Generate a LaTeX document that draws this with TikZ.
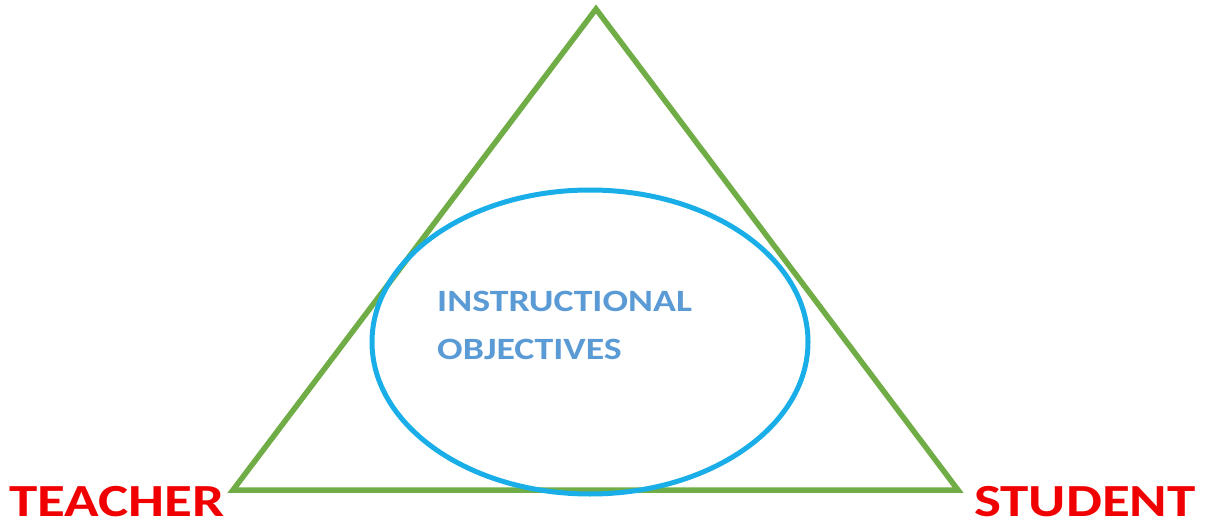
\documentclass[tikz,border=0pt]{standalone}
\usepackage{fontspec}
\setmainfont{Carlito}
\usetikzlibrary{shapes.geometric}
\definecolor{trigreen}{HTML}{70AD47}
\definecolor{ellblue}{HTML}{1AAEE8}
\definecolor{objblue}{HTML}{5B9BD5}
\definecolor{labred}{HTML}{F00000}
\tikzset{
  tri/.style={draw=trigreen, line width=5.5pt, line join=miter},
  ell/.style={draw=ellblue, line width=5pt, ellipse, minimum width=436pt, minimum height=304pt, inner sep=0pt},
  vlabel/.style={text=labred, font=\bfseries\fontsize{46}{48}\selectfont, anchor=base west, inner sep=0pt, text depth=0pt, xscale=1.24},
  olabel/.style={text=objblue, font=\bfseries\fontsize{31}{34}\selectfont, anchor=base west, inner sep=0pt, xscale=1.22}
}
\begin{document}
\begin{tikzpicture}[x=1pt,y=-1pt]
\useasboundingbox (0,0) rectangle (1232,525);
\coordinate (apex) at (596,9);
\coordinate (bl) at (233,490);
\coordinate (br) at (958,490);
\draw[tri] (apex) -- (bl) -- (br) -- cycle;
\node[ell] (obj) at (590,342) {};
\node[olabel] (t1) at (437,311) {INSTRUCTIONAL};
\node[olabel] (t2) at (437,359) {OBJECTIVES};
\node[vlabel] (teacher) at (9,516) {TEACHER};
\node[vlabel] (student) at (974,516) {STUDENT};
\end{tikzpicture}
\end{document}
